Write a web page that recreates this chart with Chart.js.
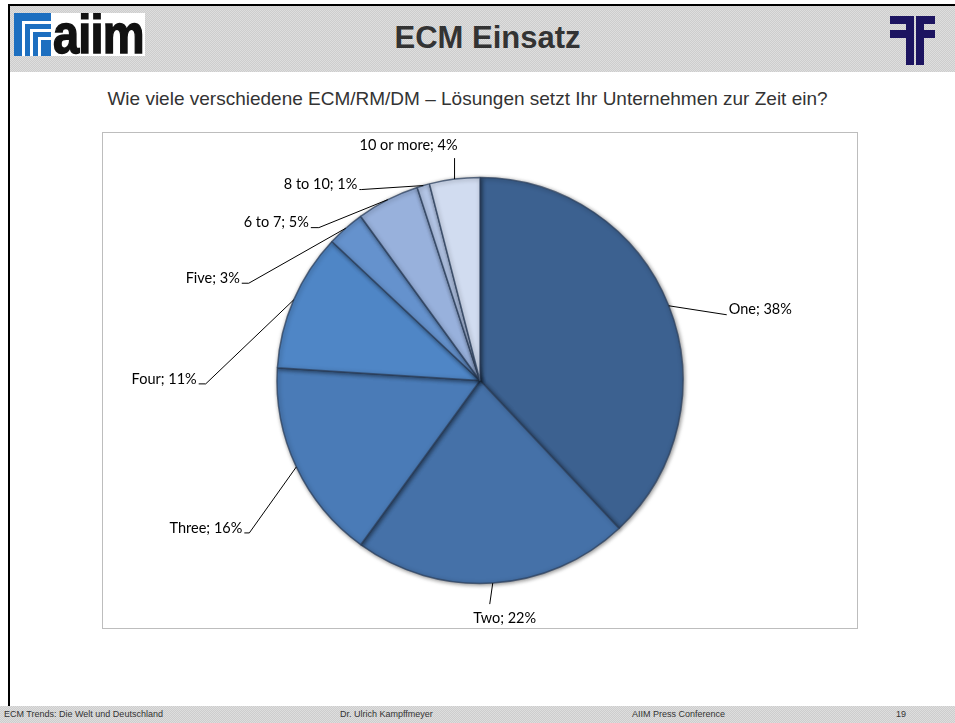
<!DOCTYPE html>
<html lang="de">
<head>
    <meta charset="UTF-8">
    <title>ECM Einsatz</title>
    <script src="https://cdn.jsdelivr.net/npm/chart.js"></script>
    <style>
        html, body { margin: 0; padding: 0; background: #fff; }
        body { width: 955px; height: 723px; position: relative; overflow: hidden; font-family: "Liberation Sans", Arial, sans-serif; }
        .dither {
            background-color: #d6d6d6;
            background-image: repeating-conic-gradient(#cdcdcd 0 25%, #dedede 0 50%);
            background-size: 2px 2px;
        }
        #topline { position: absolute; left: 8px; top: 4px; width: 947px; height: 2px; background: #000; }
        #leftline { position: absolute; left: 8px; top: 4px; width: 2px; height: 702px; background: #000; }
        #header { position: absolute; left: 10px; top: 6px; width: 945px; height: 66px; }
        #title { position: absolute; left: 0; width: 975px; top: 20px; text-align: center; font-weight: bold; font-size: 31px; color: #333; }
        #logo { position: absolute; left: 14px; top: 13px; width: 131px; height: 43px; background: #fff; overflow: hidden; }
        #logo .blue { position: absolute; left: 0; top: 0; width: 37px; height: 43px; background: #1d6fc0; }
        #logo .st { position: absolute; background: #fff; }
        #logo .txt { position: absolute; left: 39px; top: -12px; font-size: 56px; font-weight: bold; color: #111; letter-spacing: -1px; transform: scaleX(0.84); transform-origin: left top; -webkit-text-stroke: 1.5px #111; }
        .nv { position: absolute; background: #1c1460; }
        #sub { position: absolute; left: 0; width: 935px; top: 88px; text-align: center; font-size: 19px; color: #333; }
        #box { position: absolute; left: 102px; top: 132px; width: 756px; height: 497px; border: 1px solid #bdbdbd; box-sizing: border-box; }
        #footer { position: absolute; left: 0; top: 706px; width: 955px; height: 17px; }
        .ft { position: absolute; top: 3px; font-size: 9px; color: #333; }
    </style>
</head>
<body>
    <div id="header" class="dither"></div>
    <div id="topline"></div>
    <div id="leftline"></div>
    <div id="logo">
        <div class="blue"></div>
        <div class="st" style="left:8px;top:8px;width:29px;height:3px"></div>
        <div class="st" style="left:8px;top:8px;width:3px;height:35px"></div>
        <div class="st" style="left:16px;top:16px;width:21px;height:3px"></div>
        <div class="st" style="left:16px;top:16px;width:3px;height:27px"></div>
        <div class="st" style="left:24px;top:24px;width:13px;height:3px"></div>
        <div class="st" style="left:24px;top:24px;width:3px;height:19px"></div>
        <div class="txt">aiim</div>
    </div>
    <div class="nv" style="left:890px;top:16px;width:16px;height:8px"></div>
    <div class="nv" style="left:890px;top:30px;width:16px;height:8px"></div>
    <div class="nv" style="left:906px;top:16px;width:8px;height:49px"></div>
    <div class="nv" style="left:916px;top:16px;width:8px;height:49px"></div>
    <div class="nv" style="left:924px;top:16px;width:11px;height:8px"></div>
    <div class="nv" style="left:924px;top:30px;width:11px;height:8px"></div>
    <div id="title">ECM Einsatz</div>
    <div id="sub">Wie viele verschiedene ECM/RM/DM – Lösungen setzt Ihr Unternehmen zur Zeit ein?</div>

    <div id="box"><canvas id="pieChart" width="754" height="495"></canvas></div>

    <div id="footer" class="dither">
        <span class="ft" style="left:4px">ECM Trends: Die Welt und Deutschland</span>
        <span class="ft" style="left:340px">Dr. Ulrich Kampffmeyer</span>
        <span class="ft" style="left:632px">AIIM Press Conference</span>
        <span class="ft" style="left:896px">19</span>
    </div>

    <script>
        // Daten aus der Grafik
        const kategorien = ['One', 'Two', 'Three', 'Four', 'Five', '6 to 7', '8 to 10', '10 or more'];
        const anteile = [38, 22, 16, 11, 3, 5, 1, 4];

        const farben = ['#3c6190', '#4571a8', '#4a7bb7', '#4f86c6', '#6592cd', '#98b1dc', '#b3c5e6', '#d1dcf0'];

        // Ende der Führungslinie relativ zum Rand des Segments (dx, dy, Ausrichtung, Strichlänge)
        const labelPos = [
            { dx: 58, dy: 9, align: 'left', tick: 0 },
            { dx: -3, dy: 21, align: 'center', tick: 0 },
            { dx: -47, dy: 66, align: 'right', tick: 5 },
            { dx: -88, dy: 84, align: 'right', tick: 7 },
            { dx: -97, dy: 55, align: 'right', tick: 7 },
            { dx: -69, dy: 28, align: 'right', tick: 8 },
            { dx: -62, dy: 4, align: 'right', tick: 2 },
            { dx: 0, dy: -21, align: 'top', tick: 0 }
        ];

        // Plugin für Schatten unter dem Kreis
        const schatten = {
            id: 'schatten',
            beforeDatasetsDraw(chart) {
                const ctx = chart.ctx;
                ctx.save();
                ctx.shadowColor = 'rgba(0,0,0,0.45)';
                ctx.shadowBlur = 4;
                ctx.shadowOffsetX = 1;
                ctx.shadowOffsetY = 1;
            },
            afterDatasetsDraw(chart) {
                chart.ctx.restore();
            }
        };

        // Plugin für Beschriftungen mit Führungslinien
        const beschriftung = {
            id: 'beschriftung',
            afterDraw(chart) {
                const ctx = chart.ctx;
                const meta = chart.getDatasetMeta(0);
                ctx.save();
                ctx.font = '14.5px Lato, "Open Sans", sans-serif';
                ctx.fillStyle = '#000';
                ctx.strokeStyle = '#000';
                ctx.lineWidth = 1;
                meta.data.forEach((arc, i) => {
                    const mid = (arc.startAngle + arc.endAngle) / 2;
                    const ex = arc.x + Math.cos(mid) * arc.outerRadius;
                    const ey = arc.y + Math.sin(mid) * arc.outerRadius;
                    const p = labelPos[i];
                    const lx = ex + p.dx;
                    const ly = ey + p.dy;
                    const text = kategorien[i] + '; ' + anteile[i] + '%';
                    ctx.beginPath();
                    ctx.moveTo(ex, ey);
                    ctx.lineTo(lx, ly);
                    ctx.lineTo(lx - p.tick, ly);
                    ctx.stroke();
                    ctx.textBaseline = 'middle';
                    if (p.align === 'left') {
                        ctx.textAlign = 'left';
                        ctx.fillText(text, lx + 2, ly - 5);
                    } else if (p.align === 'right') {
                        ctx.textAlign = 'right';
                        ctx.fillText(text, lx - p.tick - 2, ly - 5);
                    } else if (p.align === 'center') {
                        ctx.textAlign = 'center';
                        ctx.fillText(text, lx + 15, ly + 14);
                    } else {
                        ctx.textAlign = 'center';
                        ctx.fillText(text, lx - 46, ly - 13);
                    }
                });
                ctx.restore();
            }
        };

        const ctx = document.getElementById('pieChart').getContext('2d');
        new Chart(ctx, {
            type: 'pie',
            data: {
                labels: kategorien,
                datasets: [{
                    data: anteile,
                    backgroundColor: farben,
                    borderColor: 'rgba(45,65,95,0.75)',
                    borderWidth: 1.5
                }]
            },
            options: {
                responsive: false,
                animation: false,
                radius: 203,
                plugins: {
                    legend: { display: false },
                    tooltip: { enabled: false }
                }
            },
            plugins: [schatten, beschriftung]
        });
    </script>
</body>
</html>
